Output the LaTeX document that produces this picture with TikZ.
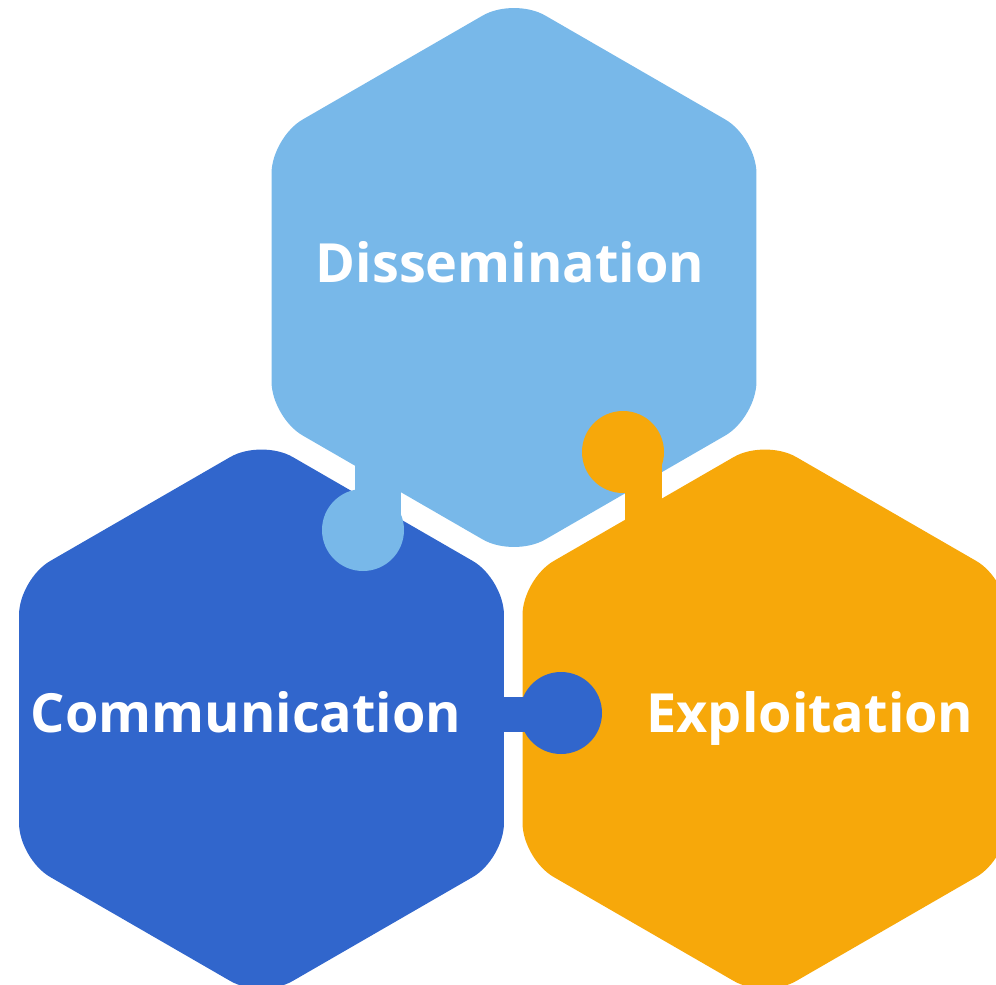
\documentclass[tikz,border=0pt]{standalone}
\usepackage{fontspec}
\setmainfont{Open Sans}
\usepackage{xcolor}
\definecolor{skyblue}{HTML}{78B8E9}
\definecolor{royalblue}{HTML}{3166CC}
\definecolor{amber}{HTML}{F7A80A}
\usepackage{tikz}
\usetikzlibrary{shapes.geometric, positioning}

\begin{document}
\begin{tikzpicture}[x=1pt, y=-1pt,
  hexagon/.style={regular polygon, regular polygon sides=6, shape border rotate=30,
    minimum size=560pt, inner sep=0pt, outer sep=0pt, rounded corners=36pt},
  knob/.style={circle, minimum size=82pt, inner sep=0pt, outer sep=0pt},
  title/.style={text=white, anchor=base, font=\bfseries\fontsize{54}{60}\selectfont}]
  \useasboundingbox (0,0) rectangle (996,985);
  \clip (0,0) rectangle (996,985);

  % Hexagons
  \node[hexagon, fill=skyblue] (diss) at (514, 277.5) {};
  \node[hexagon, fill=royalblue] (comm) at (261.5, 719) {};
  \node[hexagon, fill=amber] (expl) at (765, 719) {};

  % Puzzle knobs
  \fill[skyblue] (355, 455) rectangle (401, 530);
  \node[knob, fill=skyblue] (dissknob) at (363, 530) {};
  \fill[amber] (625, 452) rectangle (662, 528);
  \node[knob, fill=amber] (explknob) at (623, 452) {};
  \fill[royalblue] (490, 697) rectangle (561, 732);
  \node[knob, fill=royalblue] (commknob) at (561, 713) {};

  % Labels
  \node[title] (disstext) at (510, 282) {Dissemination};
  \node[title] (commtext) at (246, 732) {Communication};
  \node[title] (expltext) at (810, 732) {Exploitation};
\end{tikzpicture}
\end{document}
